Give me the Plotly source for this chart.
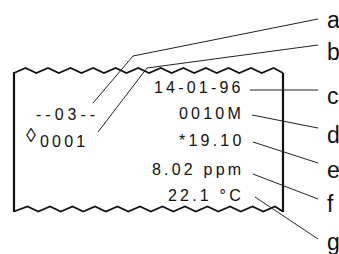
import plotly.graph_objects as go

# ---- content ----
left_texts = ["--03--", "0001"]
left_x = [65, 62]
left_y = [114, 141]
left_gap = ["\u2005", "\u2009"]
right_texts = ["14-01-96", "0010M", "*19.10", "8.02 ppm", "22.1 °C"]
right_y = [87, 113, 140, 169, 195]
labels = ["a", "b", "c", "d", "e", "f", "g"]
label_y = [20, 52, 96, 135, 170, 204, 242]

# leader lines (start -> [knee] -> end)
leaders = [
    [(93, 103), (133, 56), (318, 19)],
    [(98, 132), (147, 68), (318, 45)],
    [(250, 90), (318, 90)],
    [(252, 115), (318, 128)],
    [(253, 142), (318, 163)],
    [(253, 174), (318, 199)],
    [(255, 197), (318, 239)],
]

# paper geometry
LEFT, RIGHT, TOP, BOTTOM = 14, 283, 72, 212
AMP = 5

def zigzag(y_base, first_peak, period, n):
    xs = [LEFT]
    ys = [y_base]
    for k in range(n):
        p = first_peak + period * k
        xs += [p - 0.5, p + 0.5]
        ys += [y_base - AMP, y_base - AMP]
        v = p + period / 2
        if v < RIGHT:
            xs.append(v)
            ys.append(y_base)
    xs.append(RIGHT)
    ys.append(y_base)
    return xs, ys

fig = go.Figure()

tx, ty = zigzag(73, 25, 22.55, 12)
bx, by = zigzag(211.5, 27, 22.5, 12)
for xs, ys in [(tx, ty), (bx, by)]:
    fig.add_trace(go.Scatter(x=xs, y=ys, mode="lines",
                             line=dict(color="#111", width=1.8), hoverinfo="skip"))
# vertical edges
fig.add_trace(go.Scatter(x=[LEFT, LEFT], y=[TOP, BOTTOM], mode="lines",
                         line=dict(color="#111", width=2.2), hoverinfo="skip"))
fig.add_trace(go.Scatter(x=[RIGHT, RIGHT], y=[TOP + 1, BOTTOM], mode="lines",
                         line=dict(color="#111", width=2.2), hoverinfo="skip"))

for pts in leaders:
    fig.add_trace(go.Scatter(x=[p[0] for p in pts], y=[p[1] for p in pts], mode="lines",
                             line=dict(color="#222", width=1), hoverinfo="skip"))

def spaced(s, gap="\u2009"):
    return gap.join(s)

TF = dict(family="Liberation Sans, Arial, sans-serif", size=16, color="#111")
for t, x, y, g in zip(left_texts, left_x, left_y, left_gap):
    fig.add_annotation(x=x, y=y, text=spaced(t, g), showarrow=False, font=TF,
                       xanchor="center", yanchor="middle")
fig.add_annotation(x=30.5, y=135, text="\u25ca", showarrow=False,
                   font=dict(family="Liberation Sans, Arial, sans-serif", size=20, color="#111"),
                   xanchor="center", yanchor="middle")
for t, y in zip(right_texts, right_y):
    fig.add_annotation(x=243, y=y, text=spaced(t), showarrow=False, font=TF,
                       xanchor="right", yanchor="middle")
LF = dict(family="Liberation Sans, Arial, sans-serif", size=23, color="#111")
for t, y in zip(labels, label_y):
    fig.add_annotation(x=325, y=y, text=t, showarrow=False, font=LF,
                       xanchor="left", yanchor="middle")

fig.update_layout(
    width=339, height=254, margin=dict(l=0, r=0, t=0, b=0),
    paper_bgcolor="white", plot_bgcolor="white", showlegend=False,
    xaxis=dict(range=[0, 339], visible=False, fixedrange=True),
    yaxis=dict(range=[254, 0], visible=False, fixedrange=True),
)
fig.write_html("out.html", config={"displayModeBar": False},
               post_script="document.body.style.margin='0';document.body.style.overflow='hidden';")
